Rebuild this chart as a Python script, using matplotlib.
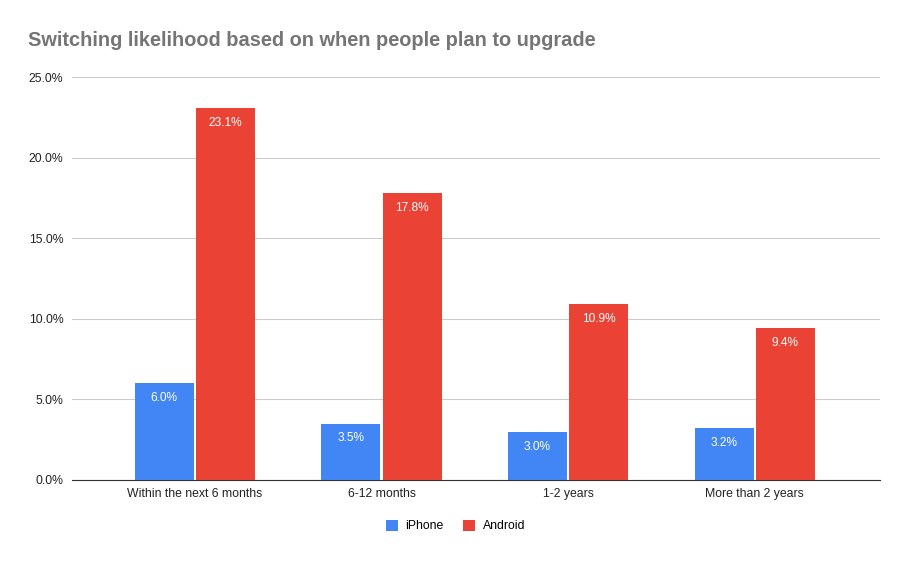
import matplotlib.pyplot as plt
import numpy as np

plt.rcParams['font.family'] = ['Liberation Sans', 'DejaVu Sans']

# data
categories = ['Within the next 6 months', '6-12 months', '1-2 years', 'More than 2 years']
iphone = [6.0, 3.5, 3.0, 3.2]
android = [23.1, 17.8, 10.9, 9.4]
yticks = [0, 5, 10, 15, 20, 25]

fig = plt.figure(figsize=(9.08, 5.61), dpi=100)
ax = fig.add_axes([0.079, 0.1444, 0.890, 0.7183])

x = np.arange(len(categories))
w = 0.316
gap = 0.006
b1 = ax.bar(x - w / 2 - gap, iphone, w, color='#4285F4', label='iPhone', zorder=3)
b2 = ax.bar(x + w / 2 + gap, android, w, color='#EA4335', label='Android', zorder=3)

# value labels inside the top of each bar
for bars, vals in [(b1, iphone), (b2, android)]:
    for b, v in zip(bars, vals):
        ax.text(b.get_x() + b.get_width() / 2, v - 0.55, f'{v:.1f}%',
                ha='center', va='top', color='white', fontsize=8.6, zorder=4)

ax.set_xlim(-0.66, 3.67)
ax.set_ylim(0, 25)
ax.set_yticks(yticks)
ax.set_yticklabels([f'{t:.1f}%' for t in yticks], fontsize=8.8, color='#222222')
ax.set_xticks(x)
ax.set_xticklabels(categories, fontsize=8.8, color='#222222')
ax.tick_params(length=0, pad=6)
ax.yaxis.grid(True, color='#cccccc', linewidth=0.8, zorder=0)
for s in ['top', 'right', 'left']:
    ax.spines[s].set_visible(False)
ax.spines['bottom'].set_color('#333333')

fig.text(28 / 908, 1 - 40 / 561, 'Switching likelihood based on when people plan to upgrade',
         fontsize=14.4, fontweight='bold', color='#757575', va='center', ha='left')

fig.legend(loc='center', bbox_to_anchor=(0.5015, 1 - 526 / 561), ncol=2, frameon=False,
           fontsize=8.8, handlelength=1.0, handleheight=1.0, columnspacing=1.6,
           handletextpad=0.6)

fig.savefig('out.png', dpi=100)
